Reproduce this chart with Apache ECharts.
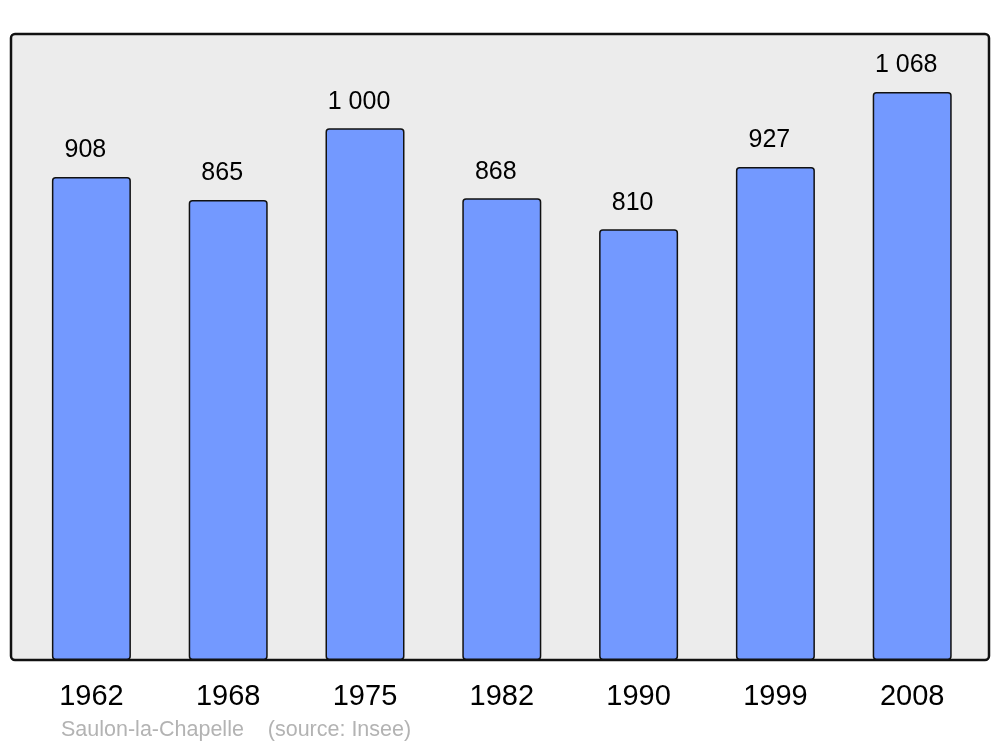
<!DOCTYPE html>
<html>
<head>
<meta charset="utf-8">
<script src="https://cdn.jsdelivr.net/npm/echarts@6/dist/echarts.min.js"></script>
<style>html,body{margin:0;padding:0;background:#fff}#c{width:1000px;height:747px}</style>
</head>
<body>
<div id="c"></div>
<script>
const years = ['1962','1968','1975','1982','1990','1999','2008'];
const population = [908, 865, 1000, 868, 810, 927, 1068];
const footer = 'Saulon-la-Chapelle    (source: Insee)';

const chart = echarts.init(document.getElementById('c'), null, {renderer: 'canvas'});
const fmt = v => String(v).replace(/\B(?=(\d{3})+(?!\d))/g, ' ');
chart.setOption({
  animation: false,
  backgroundColor: '#ffffff',
  textStyle: {fontFamily: 'Liberation Sans, Arial, sans-serif'},
  graphic: [
    {type: 'rect', z: 0, shape: {x: 11, y: 34, width: 978, height: 626, r: 4},
     style: {fill: '#ececec', stroke: '#111', lineWidth: 2.5}},
    {type: 'text', z: 5, left: 61, top: 719,
     style: {text: footer, fill: '#b3b3b3', fontSize: 21.5, fontFamily: 'Liberation Sans, Arial, sans-serif'}}
  ],
  grid: {left: 23, width: 957.6, top: 34, bottom: 87},
  xAxis: {
    type: 'category', data: years,
    axisLine: {show: false}, axisTick: {show: false},
    axisLabel: {color: '#000', fontSize: 29, margin: 22}
  },
  yAxis: {type: 'value', min: 0, max: 1177, show: false, splitLine: {show: false}},
  series: [{
    type: 'bar', data: population, barWidth: 79, z: 3,
    itemStyle: {color: '#7399ff', borderColor: '#111', borderWidth: 1.5, borderRadius: 3},
    label: {show: true, position: 'top', distance: 14, offset: [-6, 0], color: '#000', fontSize: 25,
      formatter: p => fmt(p.value)}
  }]
});
</script>
</body>
</html>
